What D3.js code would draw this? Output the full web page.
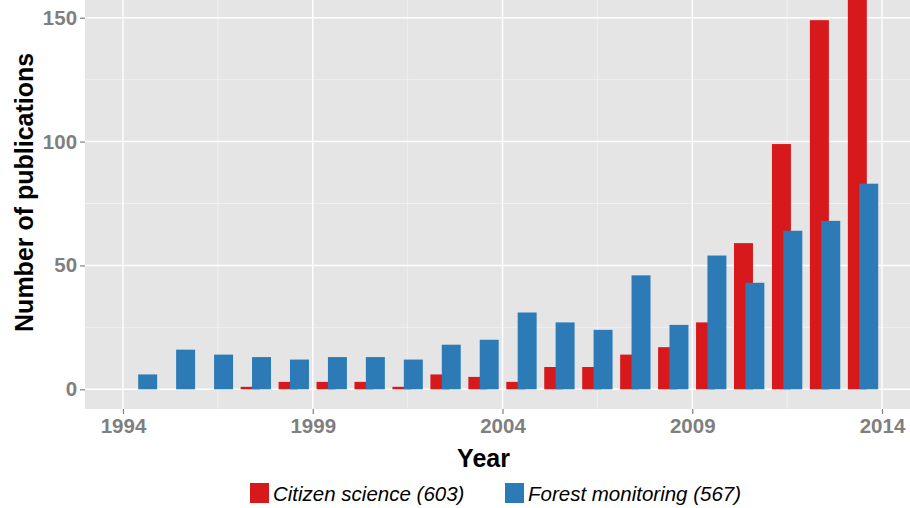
<!DOCTYPE html>
<html>
<head>
<meta charset="utf-8">
<script src="https://cdn.jsdelivr.net/npm/d3@7/dist/d3.min.js"></script>
<style>
  html, body { margin: 0; padding: 0; background: #ffffff; }
  svg { display: block; font-family: "Liberation Sans", Arial, sans-serif; }
</style>
</head>
<body>
<svg id="chart" width="910" height="508"></svg>
<script>
// ---- data ----
const years = [1994,1995,1996,1997,1998,1999,2000,2001,2002,2003,2004,2005,2006,2007,2008,2009,2010,2011,2012,2013];
const citizenScience = [0,0,0,1,3,3,3,1,6,5,3,9,9,14,17,27,59,99,149,159];
const forestMonitoring = [6,16,14,13,12,13,13,12,18,20,31,27,24,46,26,54,43,64,68,83];
const seriesNames = ["Citizen science (603)", "Forest monitoring (567)"];
const xTicks = [1994,1999,2004,2009,2014];
const xMinor = [1996.5,2001.5,2006.5,2011.5];
const yTicks = [0,50,100,150];
const yMinor = [25,75,125];
const colors = ["#D7191C", "#2C7BB6"];

const svg = d3.select("#chart");
const W = 910, H = 508;

const x = d3.scaleLinear().domain([1994, 2014]).range([123, 882]);
const y = d3.scaleLinear().domain([0, 150]).range([389.3, 17.7]);

const maxV = d3.max(citizenScience.concat(forestMonitoring));
const panelLeft = x(1993);
const panelRight = x(2014.95);
const panelTop = y(maxV * 1.05);
const panelBottom = y(-maxV * 0.05);

// panel
svg.append("rect")
  .attr("x", panelLeft).attr("y", panelTop)
  .attr("width", panelRight - panelLeft).attr("height", panelBottom - panelTop)
  .attr("fill", "#E5E5E5");

const grid = svg.append("g");
// minor grid
grid.selectAll(".ymin").data(yMinor).enter().append("line")
  .attr("x1", panelLeft).attr("x2", panelRight)
  .attr("y1", d => y(d)).attr("y2", d => y(d))
  .attr("stroke", "#F2F2F2").attr("stroke-width", 0.8);
grid.selectAll(".xmin").data(xMinor).enter().append("line")
  .attr("y1", panelTop).attr("y2", panelBottom)
  .attr("x1", d => x(d)).attr("x2", d => x(d))
  .attr("stroke", "#F2F2F2").attr("stroke-width", 0.8);
// major grid
grid.selectAll(".ymaj").data(yTicks).enter().append("line")
  .attr("x1", panelLeft).attr("x2", panelRight)
  .attr("y1", d => y(d)).attr("y2", d => y(d))
  .attr("stroke", "#FFFFFF").attr("stroke-width", 1.4);
grid.selectAll(".xmaj").data(xTicks).enter().append("line")
  .attr("y1", panelTop).attr("y2", panelBottom)
  .attr("x1", d => x(d)).attr("x2", d => x(d))
  .attr("stroke", "#FFFFFF").attr("stroke-width", 1.4);

// bars: group centred on bin middle (year + 0.5), dodge 0.3, width 0.5
const barW = 0.5, dodge = 0.3;
const bars = svg.append("g");
[citizenScience, forestMonitoring].forEach((vals, si) => {
  const off = (si === 0 ? -dodge / 2 : dodge / 2);
  bars.selectAll(".s" + si).data(years.map((yr, i) => ({yr, v: vals[i]}))).enter()
    .append("rect")
    .attr("x", d => x(d.yr + 0.5 + off - barW / 2))
    .attr("width", d => x(d.yr + 0.5 + off + barW / 2) - x(d.yr + 0.5 + off - barW / 2))
    .attr("y", d => y(d.v))
    .attr("height", d => y(0) - y(d.v))
    .attr("fill", colors[si]);
});

// axes
const yAxis = d3.axisLeft(y).tickValues(yTicks).tickSize(5).tickPadding(3).tickFormat(d3.format("d"));
const gy = svg.append("g").attr("transform", `translate(${panelLeft},0)`).call(yAxis);
gy.select(".domain").remove();
gy.selectAll(".tick line").attr("stroke", "#7F7F7F").attr("stroke-width", 1.2);
gy.selectAll(".tick text").attr("fill", "#7F7F7F").attr("font-size", "20.5px").attr("font-weight", "bold")
  .attr("font-family", "'Liberation Sans', Arial, sans-serif");

const xAxis = d3.axisBottom(x).tickValues(xTicks).tickSize(5).tickPadding(4).tickFormat(d3.format("d"));
const gx = svg.append("g").attr("transform", `translate(0,${panelBottom})`).call(xAxis);
gx.select(".domain").remove();
gx.selectAll(".tick line").attr("stroke", "#7F7F7F").attr("stroke-width", 1.2);
gx.selectAll(".tick text").attr("fill", "#7F7F7F").attr("font-size", "20.5px").attr("font-weight", "bold")
  .attr("font-family", "'Liberation Sans', Arial, sans-serif");

// axis titles
svg.append("text")
  .attr("x", (panelLeft + 882) / 2 + 0).attr("y", 467)
  .attr("text-anchor", "middle")
  .attr("font-size", "25px").attr("font-weight", "bold").attr("fill", "#000")
  .text("Year");

svg.append("text")
  .attr("transform", `translate(33,${(panelTop + panelBottom) / 2}) rotate(-90)`)
  .attr("text-anchor", "middle")
  .attr("font-size", "25px").attr("font-weight", "bold").attr("fill", "#000")
  .text("Number of publications");

// legend
const legend = svg.append("g");
const legendPos = [250, 505];
seriesNames.forEach((name, i) => {
  legend.append("rect")
    .attr("x", legendPos[i]).attr("y", 483)
    .attr("width", 19).attr("height", 20)
    .attr("fill", colors[i]);
  legend.append("text")
    .attr("x", legendPos[i] + 23).attr("y", 501)
    .attr("font-size", "20.5px").attr("font-style", "italic").attr("fill", "#000")
    .text(name);
});
</script>
</body>
</html>
